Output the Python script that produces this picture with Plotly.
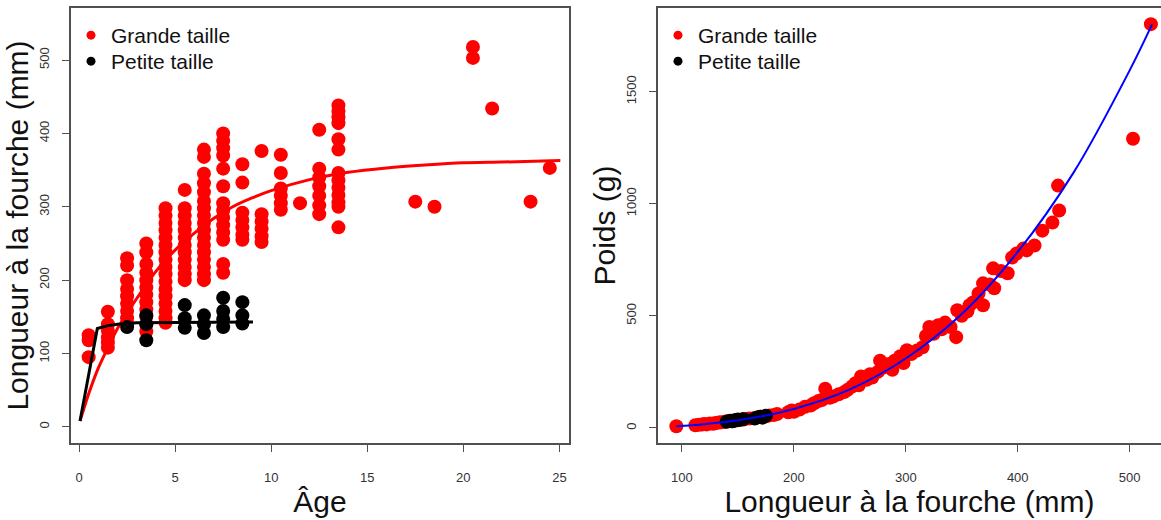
import plotly.graph_objects as go

# ---- Growth data: fork length (mm) by age, grouped by age class ----
grande_par_age = {
    0.5: [125, 118, 95],
    1.5: [157, 140, 131, 122, 115, 108],
    2.5: [230, 220, 200, 188, 178, 168, 158, 148, 140],
    3.5: [250, 238, 222, 210, 200, 190, 180, 170, 160, 150, 140, 130],
    4.5: [298, 288, 278, 268, 258, 248, 238, 228, 218, 208, 198, 188, 178, 168, 158, 148, 142],
    5.5: [323, 298, 288, 278, 268, 258, 248, 238, 228, 218, 208, 200],
    6.5: [378, 368, 345, 332, 320, 308, 298, 288, 278, 268, 258, 248, 238, 228, 218, 208, 200],
    7.5: [400, 390, 380, 370, 352, 328, 305, 295, 285, 275, 265, 255, 222, 210],
    8.5: [358, 333, 292, 282, 272, 262, 255],
    9.5: [376, 290, 280, 270, 260, 252],
    10.5: [371, 346, 325, 315, 305, 296],
    11.5: [305],
    12.5: [405, 352, 340, 328, 315, 302, 290],
    13.5: [438, 430, 422, 414, 392, 378, 346, 336, 326, 316, 306, 300, 272],
    17.5: [307],
    18.5: [300],
    20.5: [518, 503],
    21.5: [434],
    23.5: [307],
    24.5: [353],
}
petite_par_age = {
    2.5: [136],
    3.5: [152, 140, 118],
    5.5: [166, 148, 135],
    6.5: [152, 140, 128],
    7.5: [176, 158, 147, 136],
    8.5: [170, 152, 141],
}

# Fitted growth curves (age, length)
courbe_grande_age = [0.05, 0.5, 1, 1.5, 2, 3, 4, 5, 6, 7, 8, 9, 10, 12, 14, 16, 18, 20, 22, 25.05]
courbe_grande_lf = [8, 45, 80, 108, 134, 175, 212, 241, 264, 284, 300, 312, 322, 337, 347, 353, 357, 360, 361, 363]
courbe_petite_age = [0.05, 0.95, 1.5, 2, 3, 4, 9.05]
courbe_petite_lf = [8, 134, 138, 140, 142, 142, 143]

# ---- Length-weight data: fork length (mm), weight (g) ----
grande_lf = [95, 112, 115, 118, 120, 122, 125, 128, 130, 133, 135, 138, 140, 145, 150, 155, 160,
             165, 170, 175, 178, 182, 185, 195, 198, 200, 205, 210, 215, 218, 222, 225, 228, 232,
             235, 240, 245, 248, 252, 255, 258, 260, 265, 268, 270, 275, 277, 280, 285, 288, 290,
             295, 298, 301, 305, 310, 315, 318, 321, 325, 329, 332, 335, 340, 345, 346, 350, 355,
             357, 360, 365, 369, 369, 375, 378, 379, 385, 391, 395, 399, 405, 408, 415, 422, 431,
             437, 436, 503, 519]
grande_poids = [8, 12, 14, 15, 18, 16, 20, 19, 22, 24, 25, 27, 30, 30, 36, 38, 42,
                45, 50, 52, 56, 58, 62, 70, 78, 72, 82, 95, 100, 110, 120, 125, 175, 135,
                140, 150, 160, 170, 185, 200, 190, 230, 215, 240, 225, 250, 300, 270, 285, 260, 300,
                320, 290, 347, 330, 345, 360, 410, 450, 420, 458, 440, 470, 450, 405, 525, 500, 520,
                547, 560, 600, 645, 547, 640, 712, 623, 700, 690, 760, 778, 800, 792, 814, 880, 916,
                970, 1081, 1290, 1801]
petite_lf = [140, 143, 145, 147, 148, 150, 152, 155, 165, 168, 170, 172, 175]
petite_poids = [28, 32, 30, 35, 33, 38, 36, 40, 42, 48, 50, 46, 55]

# Fitted length-weight curve
courbe_pl_lf = [95, 120, 150, 200, 250, 300, 350, 400, 450, 500, 520]
courbe_pl_poids = [8, 17, 34, 85, 172, 310, 508, 785, 1140, 1595, 1800]

groupes_legende = ["Grande taille", "Petite taille"]


def aplatir(groupes):
    xs, ys = [], []
    for age, valeurs in groupes.items():
        for v in valeurs:
            xs.append(age)
            ys.append(v)
    return xs, ys


grande_age, grande_lf_age = aplatir(grande_par_age)
petite_age, petite_lf_age = aplatir(petite_par_age)

ROUGE = "#FF0000"
NOIR = "#000000"
BLEU = "#0000FF"
POLICE = "Liberation Sans, Arial, sans-serif"
TAILLE_PT = 14

fig = go.Figure()


def points(x, y, couleur, xa, ya):
    return go.Scatter(x=x, y=y, mode="markers", showlegend=False,
                      marker=dict(color=couleur, size=TAILLE_PT, line=dict(width=0)),
                      xaxis=xa, yaxis=ya)


# Left panel: length at age
fig.add_trace(points(grande_age, grande_lf_age, ROUGE, "x", "y"))
fig.add_trace(points(petite_age, petite_lf_age, NOIR, "x", "y"))
fig.add_trace(go.Scatter(x=courbe_grande_age, y=courbe_grande_lf, mode="lines", showlegend=False,
                         line=dict(color=ROUGE, width=3, shape="spline", smoothing=0.6),
                         xaxis="x", yaxis="y"))
fig.add_trace(go.Scatter(x=courbe_petite_age, y=courbe_petite_lf, mode="lines", showlegend=False,
                         line=dict(color=NOIR, width=3),
                         xaxis="x", yaxis="y"))

# Right panel: weight vs length
fig.add_trace(points(grande_lf, grande_poids, ROUGE, "x2", "y2"))
fig.add_trace(points(petite_lf, petite_poids, NOIR, "x2", "y2"))
fig.add_trace(go.Scatter(x=courbe_pl_lf, y=courbe_pl_poids, mode="lines", showlegend=False,
                         line=dict(color=BLEU, width=2, shape="spline"),
                         xaxis="x2", yaxis="y2"))

W, H = 1161, 520
gx0, gx1, px0, px1 = 71, 569, 658, 1161
top, bot = 8, 443

# Legend entries: one single-item legend per row so rows sit 26 px apart
leg_style = dict(xanchor="left", yanchor="top", bgcolor="rgba(0,0,0,0)",
                 font=dict(family=POLICE, size=21, color="#111111"),
                 itemsizing="trace")
legendes = {}
n = 1
for (xa, ya), x0 in ((("x", "y"), gx0), (("x2", "y2"), px0)):
    for i, (nom, couleur) in enumerate(zip(groupes_legende, (ROUGE, NOIR))):
        cle = "legend" if n == 1 else f"legend{n}"
        fig.add_trace(go.Scatter(x=[None], y=[None], mode="markers", name=nom,
                                 marker=dict(color=couleur, size=9, line=dict(width=0)),
                                 xaxis=xa, yaxis=ya, legend=cle))
        legendes[cle] = dict(leg_style, x=x0 / W, y=1 - (15 + 26 * i) / H)
        n += 1

axe = dict(showgrid=False, zeroline=False, showline=True, mirror=True,
           linecolor="#505050", linewidth=1.5, ticks="outside", ticklen=7,
           tickcolor="#505050", tickwidth=1.2,
           tickfont=dict(family=POLICE, size=13, color="#333333"),
           automargin=False)
titre = dict(family=POLICE, size=30, color="#111111")

fig.update_layout(
    width=W, height=H,
    margin=dict(l=0, r=0, t=0, b=0),
    paper_bgcolor="white", plot_bgcolor="white",
    font=dict(family=POLICE),
    xaxis=dict(axe, domain=[gx0 / W, gx1 / W], range=[-0.42, 25.5],
               tickvals=[0, 5, 10, 15, 20, 25], ticklabelstandoff=15,
               title=dict(text="Âge", font=titre, standoff=7)),
    yaxis=dict(axe, domain=[1 - bot / H, 1 - top / H], range=[-22, 571],
               tickvals=[0, 100, 200, 300, 400, 500], tickangle=-90, ticklabelstandoff=8,
               title=dict(text="Longueur à la fourche (mm)", font=titre, standoff=0)),
    xaxis2=dict(axe, domain=[px0 / W, px1 / W], range=[78.6, 528], anchor="y2",
                tickvals=[100, 200, 300, 400, 500], ticklabelstandoff=15,
                title=dict(text="Longueur à la fourche (mm)", font=titre, standoff=7)),
    yaxis2=dict(axe, domain=[1 - bot / H, 1 - top / H], range=[-67, 1873], anchor="x2",
                tickvals=[0, 500, 1000, 1500], tickangle=-90, ticklabelstandoff=8,
                title=dict(text="Poids (g)", font=titre, standoff=0)),
    **legendes,
)

fig.write_html("out.html")
